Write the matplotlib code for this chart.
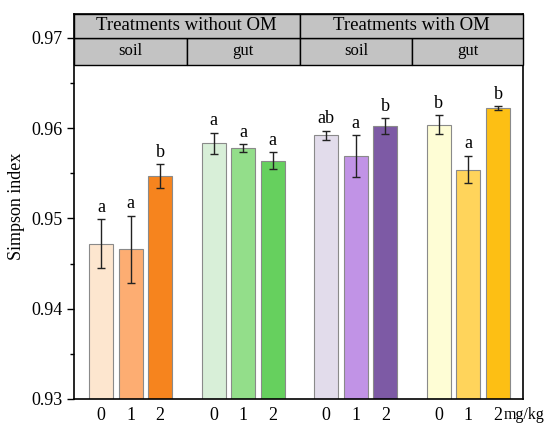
import numpy as np
import matplotlib
matplotlib.use('Agg')
import matplotlib.pyplot as plt
from matplotlib.patches import Rectangle

plt.rcParams['font.family'] = ['Liberation Serif', 'DejaVu Serif']

# Simpson index per treatment (0, 1, 2 mg/kg) for each group
doses = ['0', '1', '2']
no_om_soil = [0.9472, 0.9466, 0.9547]
no_om_gut = [0.9583, 0.9578, 0.9564]
om_soil = [0.9592, 0.9569, 0.9602]
om_gut = [0.9604, 0.9554, 0.9622]

no_om_soil_err = [0.0027, 0.0037, 0.0013]
no_om_gut_err = [0.0012, 0.0004, 0.0009]
om_soil_err = [0.0005, 0.0023, 0.0009]
om_gut_err = [0.0010, 0.0015, 0.0002]

no_om_soil_sig = ['a', 'a', 'b']
no_om_gut_sig = ['a', 'a', 'a']
om_soil_sig = ['ab', 'a', 'b']
om_gut_sig = ['b', 'a', 'b']

top_labels = ['Treatments without OM', 'Treatments with OM']
sub_labels = ['soil', 'gut', 'soil', 'gut']

colors = [
    ['#FDE6CF', '#FDAD72', '#F6841E'],
    ['#D8EFD8', '#93DE8A', '#66D05E'],
    ['#E2DCEB', '#C193E6', '#7D5AA5'],
    ['#FEFDD5', '#FFD45B', '#FDBF14'],
]

groups = [
    (no_om_soil, no_om_soil_err, no_om_soil_sig),
    (no_om_gut, no_om_gut_err, no_om_gut_sig),
    (om_soil, om_soil_err, om_soil_sig),
    (om_gut, om_gut_err, om_gut_sig),
]

fig = plt.figure(figsize=(5.5, 4.24), dpi=100)
ax = fig.add_axes([0.1345, 0.059, 0.8164, 0.908])

gap = 3.8
ymin, ymax = 0.93, 0.97264
xticks, xlabels = [], []
for g, (vals, errs, sigs) in enumerate(groups):
    x = np.arange(3) + g * gap
    ax.bar(x, np.array(vals) - ymin, bottom=ymin, width=0.81, color=colors[g],
           edgecolor='#8a8a8a', linewidth=0.8, zorder=2)
    ax.errorbar(x, vals, yerr=errs, fmt='none', ecolor='#222222', elinewidth=1,
                capsize=2.8, capthick=1, zorder=3)
    for xi, v, e, s in zip(x, vals, errs, sigs):
        ax.text(xi, v + e + 0.0004, s, ha='center', va='bottom', fontsize=13)
    xticks += list(x)
    xlabels += doses

ax.set_xlim(-0.91, 2 + 3 * gap + 0.84)
ax.set_ylim(ymin, ymax)
ax.set_xticks(xticks)
ax.set_xticklabels(xlabels, fontsize=13)
ax.tick_params(axis='x', length=0, pad=6)
ax.set_yticks([0.93, 0.94, 0.95, 0.96, 0.97])
ax.set_yticklabels(['0.93', '0.94', '0.95', '0.96', '0.97'], fontsize=13)
ax.set_yticks(np.arange(0.935, 0.97, 0.01), minor=True)
ax.tick_params(axis='y', which='major', direction='out', length=5, width=1)
ax.tick_params(axis='y', which='minor', direction='out', length=3, width=1)
ax.set_ylabel('Simpson index', fontsize=13, labelpad=4)
for sp in ax.spines.values():
    sp.set_linewidth(1.2)

# unit label right after the last tick label
ax.annotate('mg/kg', xy=(xticks[-1], 0), xycoords=('data', 'axes fraction'),
            xytext=(4, -6), textcoords='offset points', ha='left', va='top', fontsize=11.5)

# header boxes
h1, h2 = 0.96699, 0.97
x0, x1 = ax.get_xlim()
half = (gap - 3) / 2
bounds = [x0, 2.5 + half, 2.5 + gap + half, 2.5 + 2 * gap + half, x1]
for i in range(4):
    ax.add_patch(Rectangle((bounds[i], h1), bounds[i + 1] - bounds[i], h2 - h1,
                           facecolor='#C3C3C3', edgecolor='black', linewidth=1, zorder=4, clip_on=False))
    ax.text((bounds[i] + bounds[i + 1]) / 2, (h1 + h2) / 2, sub_labels[i],
            ha='center', va='center', fontsize=12, zorder=5)
for i in range(2):
    l, r = bounds[2 * i], bounds[2 * i + 2]
    ax.add_patch(Rectangle((l, h2), r - l, ymax - h2,
                           facecolor='#C3C3C3', edgecolor='black', linewidth=1, zorder=4, clip_on=False))
    ax.text((l + r) / 2, (h2 + ymax) / 2, top_labels[i],
            ha='center', va='center', fontsize=13.5, zorder=5)

fig.savefig('out.png', dpi=100)
